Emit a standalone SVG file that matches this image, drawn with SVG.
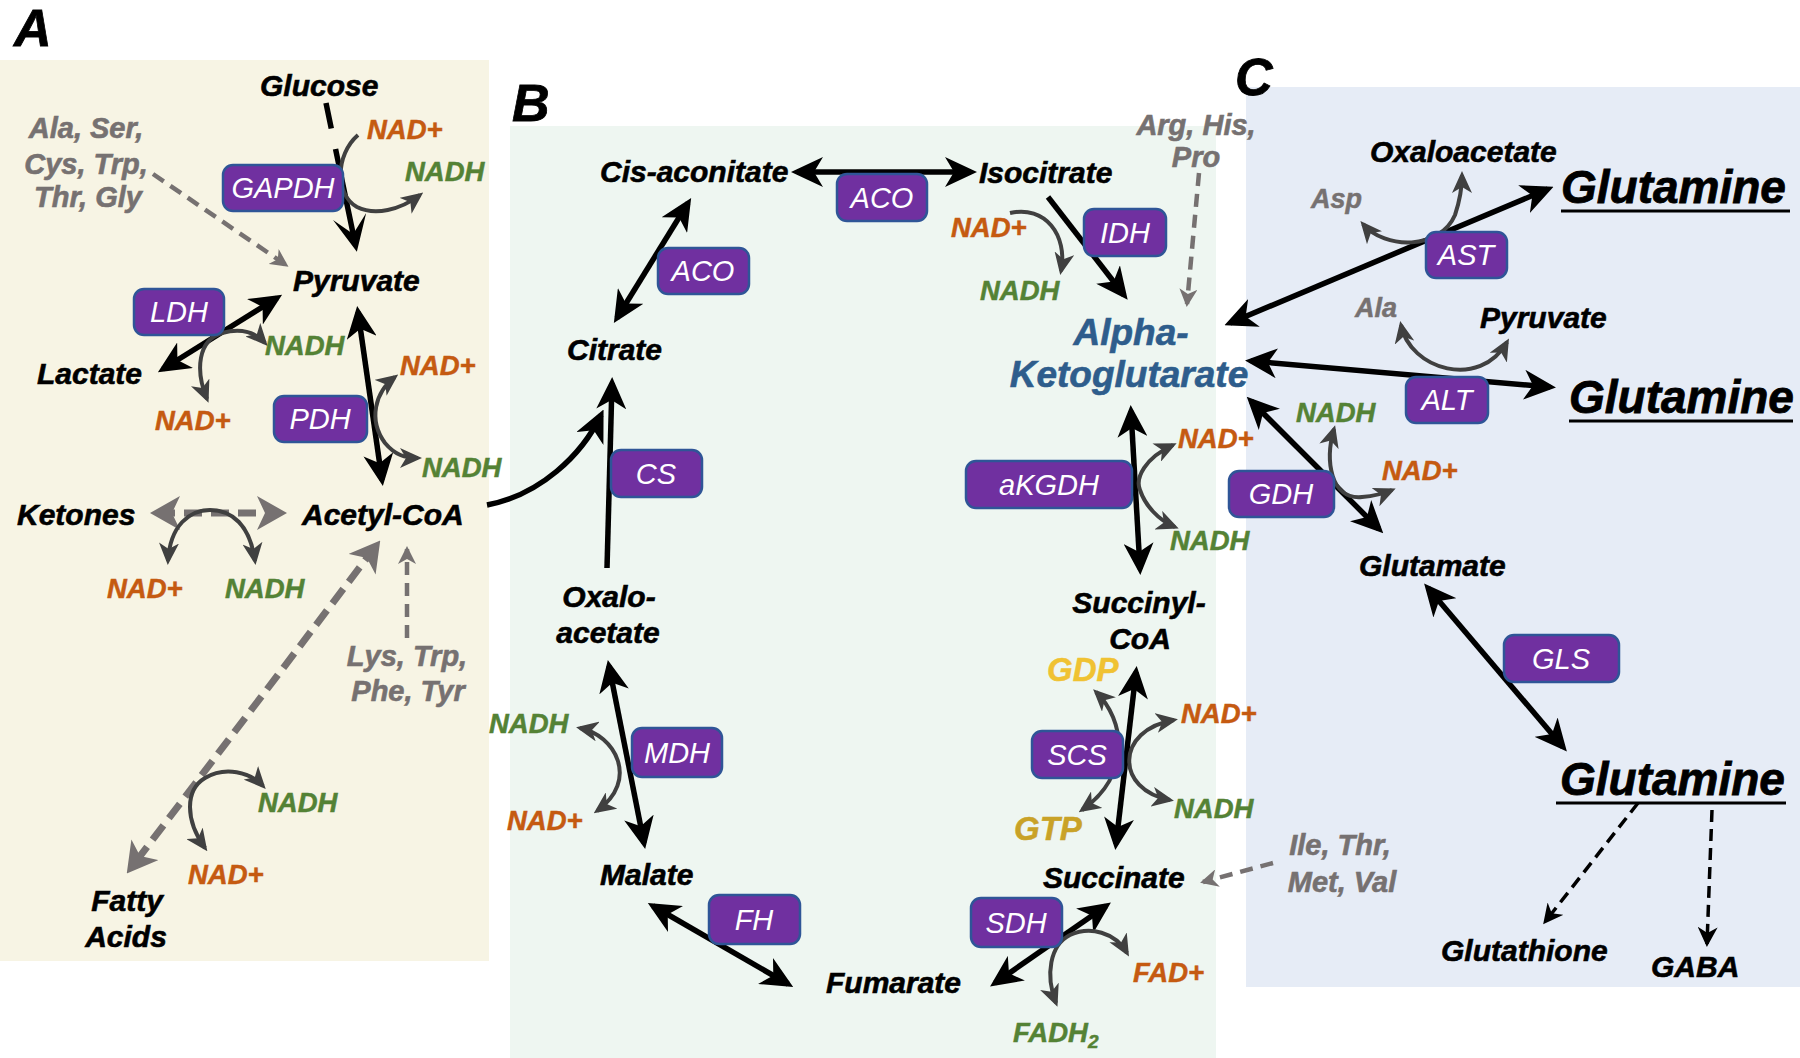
<svg xmlns="http://www.w3.org/2000/svg" width="1800" height="1058" viewBox="0 0 1800 1058">
<defs>
<style>
text{font-family:"Liberation Sans",Arial,Helvetica,sans-serif;font-style:italic;font-weight:bold}
.m{font-size:30px;fill:#000;stroke:#000;stroke-width:0.6}
.g{font-size:29px;fill:#767171;stroke:#767171;stroke-width:0.6}
.gs{font-size:27px;fill:#767171;stroke:#767171;stroke-width:0.5}
.o{font-size:27.5px;fill:#c55a11;stroke:#c55a11;stroke-width:0.5}
.n{font-size:27.5px;fill:#548235;stroke:#548235;stroke-width:0.5}
.mid{text-anchor:middle}
.lab{font-size:52px;fill:#000;stroke:#000;stroke-width:0.8}
.akg{font-size:37px;fill:#2e5d8c;stroke:#2e5d8c;stroke-width:0.6;text-anchor:middle}
.gln{font-size:46px;fill:#000;stroke:#000;stroke-width:0.8}
.box{fill:#7030a0;stroke:#2f5597;stroke-width:2.5}
.et{font-size:29px;font-weight:normal;fill:#fff;text-anchor:middle}
.ul{stroke:#000;stroke-width:3}
.bk{fill:none;stroke:#000;stroke-width:5.5}
.co{fill:none;stroke:#404040;stroke-width:4}
.gd{fill:none;stroke:#767171;stroke-width:4.5;stroke-dasharray:13 8}
.gdb{fill:none;stroke:#767171;stroke-width:7;stroke-dasharray:18 9}
.kd{fill:none;stroke:#000;stroke-width:3.5;stroke-dasharray:12 7}
</style>
<marker id="ah" viewBox="0 0 32 30" refX="26" refY="15" markerWidth="32" markerHeight="30" markerUnits="userSpaceOnUse" orient="auto-start-reverse"><path d="M0,0 L32,15 L0,30 L9,15 z" fill="#000"/></marker>
<marker id="cv" viewBox="0 0 36 34" refX="22" refY="17" markerWidth="36" markerHeight="34" markerUnits="userSpaceOnUse" orient="auto"><path d="M0,0 L36,17 L0,34 L18,17 z" fill="#000"/></marker>
<marker id="ch" viewBox="0 0 22 20" refX="18" refY="10" markerWidth="22" markerHeight="20" markerUnits="userSpaceOnUse" orient="auto-start-reverse"><path d="M0,0 L22,10 L0,20 L6,10 z" fill="#404040"/></marker>
<marker id="gb" viewBox="0 0 30 34" refX="23" refY="17" markerWidth="30" markerHeight="34" markerUnits="userSpaceOnUse" orient="auto-start-reverse"><path d="M0,0 L30,17 L0,34 L8,17 z" fill="#767171"/></marker>
<marker id="gs" viewBox="0 0 18 18" refX="15" refY="9" markerWidth="18" markerHeight="18" markerUnits="userSpaceOnUse" orient="auto-start-reverse"><path d="M0,0 L18,9 L0,18 L5,9 z" fill="#767171"/></marker>
<marker id="ks" viewBox="0 0 20 20" refX="17" refY="10" markerWidth="20" markerHeight="20" markerUnits="userSpaceOnUse" orient="auto-start-reverse"><path d="M0,0 L20,10 L0,20 L6,10 z" fill="#000"/></marker>
</defs>
<rect width="1800" height="1058" fill="#fff"/>
<g id="panels">
<rect x="0" y="60" width="489" height="901" fill="#f7f4e4"/>
<rect x="510" y="126" width="706" height="932" fill="#eef6f1"/>
<rect x="1246" y="87" width="554" height="900" fill="#e6ecf6"/>
<text class="lab" x="14" y="46">A</text>
<text class="lab" x="512" y="121">B</text>
<text class="lab" x="1235" y="95">C</text>
</g>
<g id="connectors">
<path class="bk" d="M326,103 L354,238" stroke-dasharray="26 21 400" marker-end="url(#cv)"/>
<path class="co" d="M358,135 C335,155 335,195 357,207 C375,216 400,210 420,195" marker-end="url(#ch)"/>
<path class="gd" d="M153,174 L286,265" marker-end="url(#gs)"/>
<path class="bk" d="M163,369 L277,298" marker-start="url(#ah)" marker-end="url(#ah)"/>
<path class="co" d="M207,399 C195,370 198,340 222,333 C240,328 255,332 265,343" marker-start="url(#ch)" marker-end="url(#ch)"/>
<path class="bk" d="M358,312 L382,480" marker-start="url(#ah)" marker-end="url(#ah)"/>
<path class="co" d="M395,377 C375,392 368,420 385,443 C395,455 405,458 418,458" marker-start="url(#ch)" marker-end="url(#ch)"/>
<path class="gdb" d="M157,513 L280,513" marker-start="url(#gb)" marker-end="url(#gb)"/>
<path class="co" d="M168,561 C170,525 190,510 210,510 C232,510 250,525 255,561" marker-start="url(#ch)" marker-end="url(#ch)"/>
<path class="gdb" d="M376,546 L131,868" marker-start="url(#gb)" marker-end="url(#gb)"/>
<path class="gd" d="M407,638 L407,549" marker-end="url(#gs)"/>
<path class="co" d="M205,848 C185,820 185,790 205,778 C225,766 250,772 263,786" marker-start="url(#ch)" marker-end="url(#ch)"/>
<path class="bk" d="M487,505 C540,495 582,455 601,415" marker-end="url(#ah)"/>
<path class="bk" d="M797,172 L971,172" marker-start="url(#ah)" marker-end="url(#ah)"/>
<path class="bk" d="M688,203 L617,318" marker-start="url(#ah)" marker-end="url(#ah)"/>
<path class="bk" d="M607,568 L612,383" marker-end="url(#ah)"/>
<path class="bk" d="M1048,197 L1124,295" marker-end="url(#ah)"/>
<path class="co" d="M1010,213 C1045,205 1068,235 1061,271" marker-end="url(#ch)"/>
<path class="gd" d="M1199,173 L1187,304" stroke-dasharray="16 8" marker-end="url(#gs)"/>
<path class="bk" d="M1131,411 L1140,569" marker-start="url(#ah)" marker-end="url(#ah)"/>
<path class="co" d="M1173,445 C1145,458 1135,478 1140,490 C1145,505 1158,520 1175,527" marker-start="url(#ch)" marker-end="url(#ch)"/>
<path class="bk" d="M1136,672 L1116,844" marker-start="url(#ah)" marker-end="url(#ah)"/>
<path class="co" d="M1096,692 C1125,720 1132,775 1082,810" marker-start="url(#ch)" marker-end="url(#ch)"/>
<path class="co" d="M1174,720 C1115,730 1115,790 1170,800" marker-start="url(#ch)" marker-end="url(#ch)"/>
<path class="bk" d="M995,983 L1106,906" marker-start="url(#ah)" marker-end="url(#ah)"/>
<path class="co" d="M1056,1003 C1045,975 1050,945 1070,935 C1090,926 1115,932 1127,953" marker-start="url(#ch)" marker-end="url(#ch)"/>
<path class="bk" d="M653,906 L788,984" marker-start="url(#ah)" marker-end="url(#ah)"/>
<path class="bk" d="M609,666 L644,843" marker-start="url(#ah)" marker-end="url(#ah)"/>
<path class="co" d="M580,728 C615,735 640,780 597,811" marker-start="url(#ch)" marker-end="url(#ch)"/>
<path class="gd" d="M1273,863 L1203,882" marker-end="url(#gs)"/>
<path class="bk" d="M1230,323 L1548,189" marker-start="url(#ah)" marker-end="url(#ah)"/>
<path class="co" d="M1363,224 C1385,250 1440,250 1455,215 C1460,200 1462,185 1462,175" marker-start="url(#ch)" marker-end="url(#ch)"/>
<path class="bk" d="M1251,361 L1550,387" marker-start="url(#ah)" marker-end="url(#ah)"/>
<path class="co" d="M1401,325 C1410,370 1480,390 1507,342" marker-start="url(#ch)" marker-end="url(#ch)"/>
<path class="bk" d="M1251,401 L1379,529" marker-start="url(#ah)" marker-end="url(#ah)"/>
<path class="co" d="M1334,429 C1325,460 1330,500 1362,497 C1375,496 1385,493 1392,490" marker-start="url(#ch)" marker-end="url(#ch)"/>
<path class="bk" d="M1428,588 L1563,747" marker-start="url(#ah)" marker-end="url(#ah)"/>
<path class="kd" d="M1638,803 L1545,922" marker-end="url(#ks)"/>
<path class="kd" d="M1712,810 L1707,944" marker-end="url(#ks)"/>
</g>
<g id="enzymes">
<g id="e-gapdh"><rect class="box" x="223" y="165" width="120" height="46" rx="10"/><text class="et" x="283" y="198">GAPDH</text></g>
<g id="e-ldh"><rect class="box" x="134" y="289" width="90" height="46" rx="10"/><text class="et" x="179" y="322">LDH</text></g>
<g id="e-pdh"><rect class="box" x="274" y="396" width="93" height="46" rx="10"/><text class="et" x="320" y="429">PDH</text></g>
<g id="e-aco1"><rect class="box" x="837" y="174" width="90" height="47" rx="10"/><text class="et" x="882" y="208">ACO</text></g>
<g id="e-aco2"><rect class="box" x="658" y="248" width="91" height="46" rx="10"/><text class="et" x="703" y="281">ACO</text></g>
<g id="e-cs"><rect class="box" x="611" y="450" width="91" height="47" rx="10"/><text class="et" x="656" y="484">CS</text></g>
<g id="e-idh"><rect class="box" x="1084" y="209" width="82" height="47" rx="10"/><text class="et" x="1125" y="243">IDH</text></g>
<g id="e-akgdh"><rect class="box" x="966" y="461" width="166" height="47" rx="10"/><text class="et" x="1049" y="495">aKGDH</text></g>
<g id="e-scs"><rect class="box" x="1032" y="731" width="91" height="47" rx="10"/><text class="et" x="1077" y="765">SCS</text></g>
<g id="e-sdh"><rect class="box" x="971" y="898" width="91" height="49" rx="10"/><text class="et" x="1016" y="933">SDH</text></g>
<g id="e-fh"><rect class="box" x="709" y="895" width="91" height="49" rx="10"/><text class="et" x="754" y="930">FH</text></g>
<g id="e-mdh"><rect class="box" x="632" y="728" width="90" height="49" rx="10"/><text class="et" x="677" y="763">MDH</text></g>
<g id="e-ast"><rect class="box" x="1426" y="232" width="81" height="46" rx="10"/><text class="et" x="1466" y="265">AST</text></g>
<g id="e-alt"><rect class="box" x="1406" y="377" width="82" height="46" rx="10"/><text class="et" x="1447" y="410">ALT</text></g>
<g id="e-gdh"><rect class="box" x="1229" y="471" width="105" height="46" rx="10"/><text class="et" x="1281" y="504">GDH</text></g>
<g id="e-gls"><rect class="box" x="1504" y="635" width="115" height="47" rx="10"/><text class="et" x="1561" y="669">GLS</text></g>
</g>
<g id="metabolites">
<g id="n-glucose"><text class="m" x="260" y="96">Glucose</text></g>
<g id="n-aa1"><text class="g mid" x="86" y="138">Ala, Ser,</text><text class="g mid" x="86" y="174">Cys, Trp,</text><text class="g mid" x="88" y="207">Thr, Gly</text></g>
<g id="n-pyruvate"><text class="m" x="293" y="291">Pyruvate</text></g>
<g id="n-lactate"><text class="m" x="37" y="384">Lactate</text></g>
<g id="n-ketones"><text class="m" x="17" y="525">Ketones</text></g>
<g id="n-acetylcoa"><text class="m" x="302" y="525">Acetyl-CoA</text></g>
<g id="n-aa2"><text class="g mid" x="407" y="666">Lys, Trp,</text><text class="g mid" x="408" y="701">Phe, Tyr</text></g>
<g id="n-fatty"><text class="m mid" x="127" y="911">Fatty</text><text class="m mid" x="126" y="947">Acids</text></g>
<g id="n-cisaco"><text class="m" x="600" y="182">Cis-aconitate</text></g>
<g id="n-isocitrate"><text class="m" x="979" y="183">Isocitrate</text></g>
<g id="n-citrate"><text class="m" x="567" y="360">Citrate</text></g>
<g id="n-akg"><text class="akg" x="1131" y="345">Alpha-</text><text class="akg" x="1129" y="387">Ketoglutarate</text></g>
<g id="n-oaa"><text class="m mid" x="609" y="607">Oxalo-</text><text class="m mid" x="608" y="643">acetate</text></g>
<g id="n-succoa"><text class="m mid" x="1139" y="613">Succinyl-</text><text class="m mid" x="1140" y="649">CoA</text></g>
<g id="n-malate"><text class="m" x="600" y="885">Malate</text></g>
<g id="n-succinate"><text class="m" x="1043" y="888">Succinate</text></g>
<g id="n-fumarate"><text class="m" x="826" y="993">Fumarate</text></g>
<g id="n-aa3"><text class="g mid" x="1196" y="135">Arg, His,</text><text class="g mid" x="1196" y="167">Pro</text></g>
<g id="n-aa4"><text class="g mid" x="1340" y="855">Ile, Thr,</text><text class="g mid" x="1342" y="892">Met, Val</text></g>
<g id="n-oaa2"><text class="m" x="1370" y="162">Oxaloacetate</text></g>
<g id="n-asp"><text class="gs" x="1311" y="208">Asp</text></g>
<g id="n-gln1"><text class="gln" x="1561" y="203">Glutamine</text><line class="ul" x1="1561" y1="211" x2="1790" y2="211"/></g>
<g id="n-ala"><text class="gs" x="1355" y="317">Ala</text></g>
<g id="n-pyr2"><text class="m" x="1480" y="328">Pyruvate</text></g>
<g id="n-gln2"><text class="gln" x="1569" y="413">Glutamine</text><line class="ul" x1="1569" y1="421" x2="1793" y2="421"/></g>
<g id="n-glutamate"><text class="m" x="1359" y="576">Glutamate</text></g>
<g id="n-gln3"><text class="gln" x="1560" y="795">Glutamine</text><line class="ul" x1="1556" y1="803" x2="1786" y2="803"/></g>
<g id="n-gsh"><text class="m" x="1441" y="961">Glutathione</text></g>
<g id="n-gaba"><text class="m" x="1651" y="977">GABA</text></g>
</g>
<g id="cofactors">
<text class="o" x="367" y="139">NAD+</text>
<text class="n" x="405" y="181">NADH</text>
<text class="n" x="265" y="355">NADH</text>
<text class="o" x="155" y="430">NAD+</text>
<text class="o" x="400" y="375">NAD+</text>
<text class="n" x="422" y="477">NADH</text>
<text class="o" x="107" y="598">NAD+</text>
<text class="n" x="225" y="598">NADH</text>
<text class="n" x="258" y="812">NADH</text>
<text class="o" x="188" y="884">NAD+</text>
<text class="o" x="951" y="237">NAD+</text>
<text class="n" x="980" y="300">NADH</text>
<text class="o" x="1178" y="448">NAD+</text>
<text class="n" x="1170" y="550">NADH</text>
<text x="1047" y="681" style="font-size:33px;fill:#f0c232;stroke:#f0c232;stroke-width:0.5">GDP</text>
<text x="1014" y="840" style="font-size:33px;fill:#c9a227;stroke:#c9a227;stroke-width:0.5">GTP</text>
<text class="o" x="1181" y="723">NAD+</text>
<text class="n" x="1174" y="818">NADH</text>
<text class="n" x="489" y="733">NADH</text>
<text class="o" x="507" y="830">NAD+</text>
<text class="o" x="1133" y="982">FAD+</text>
<text class="n" x="1013" y="1042">FADH<tspan font-size="19" dy="6">2</tspan></text>
<text class="n" x="1296" y="422">NADH</text>
<text class="o" x="1382" y="480">NAD+</text>
</g>
</svg>
